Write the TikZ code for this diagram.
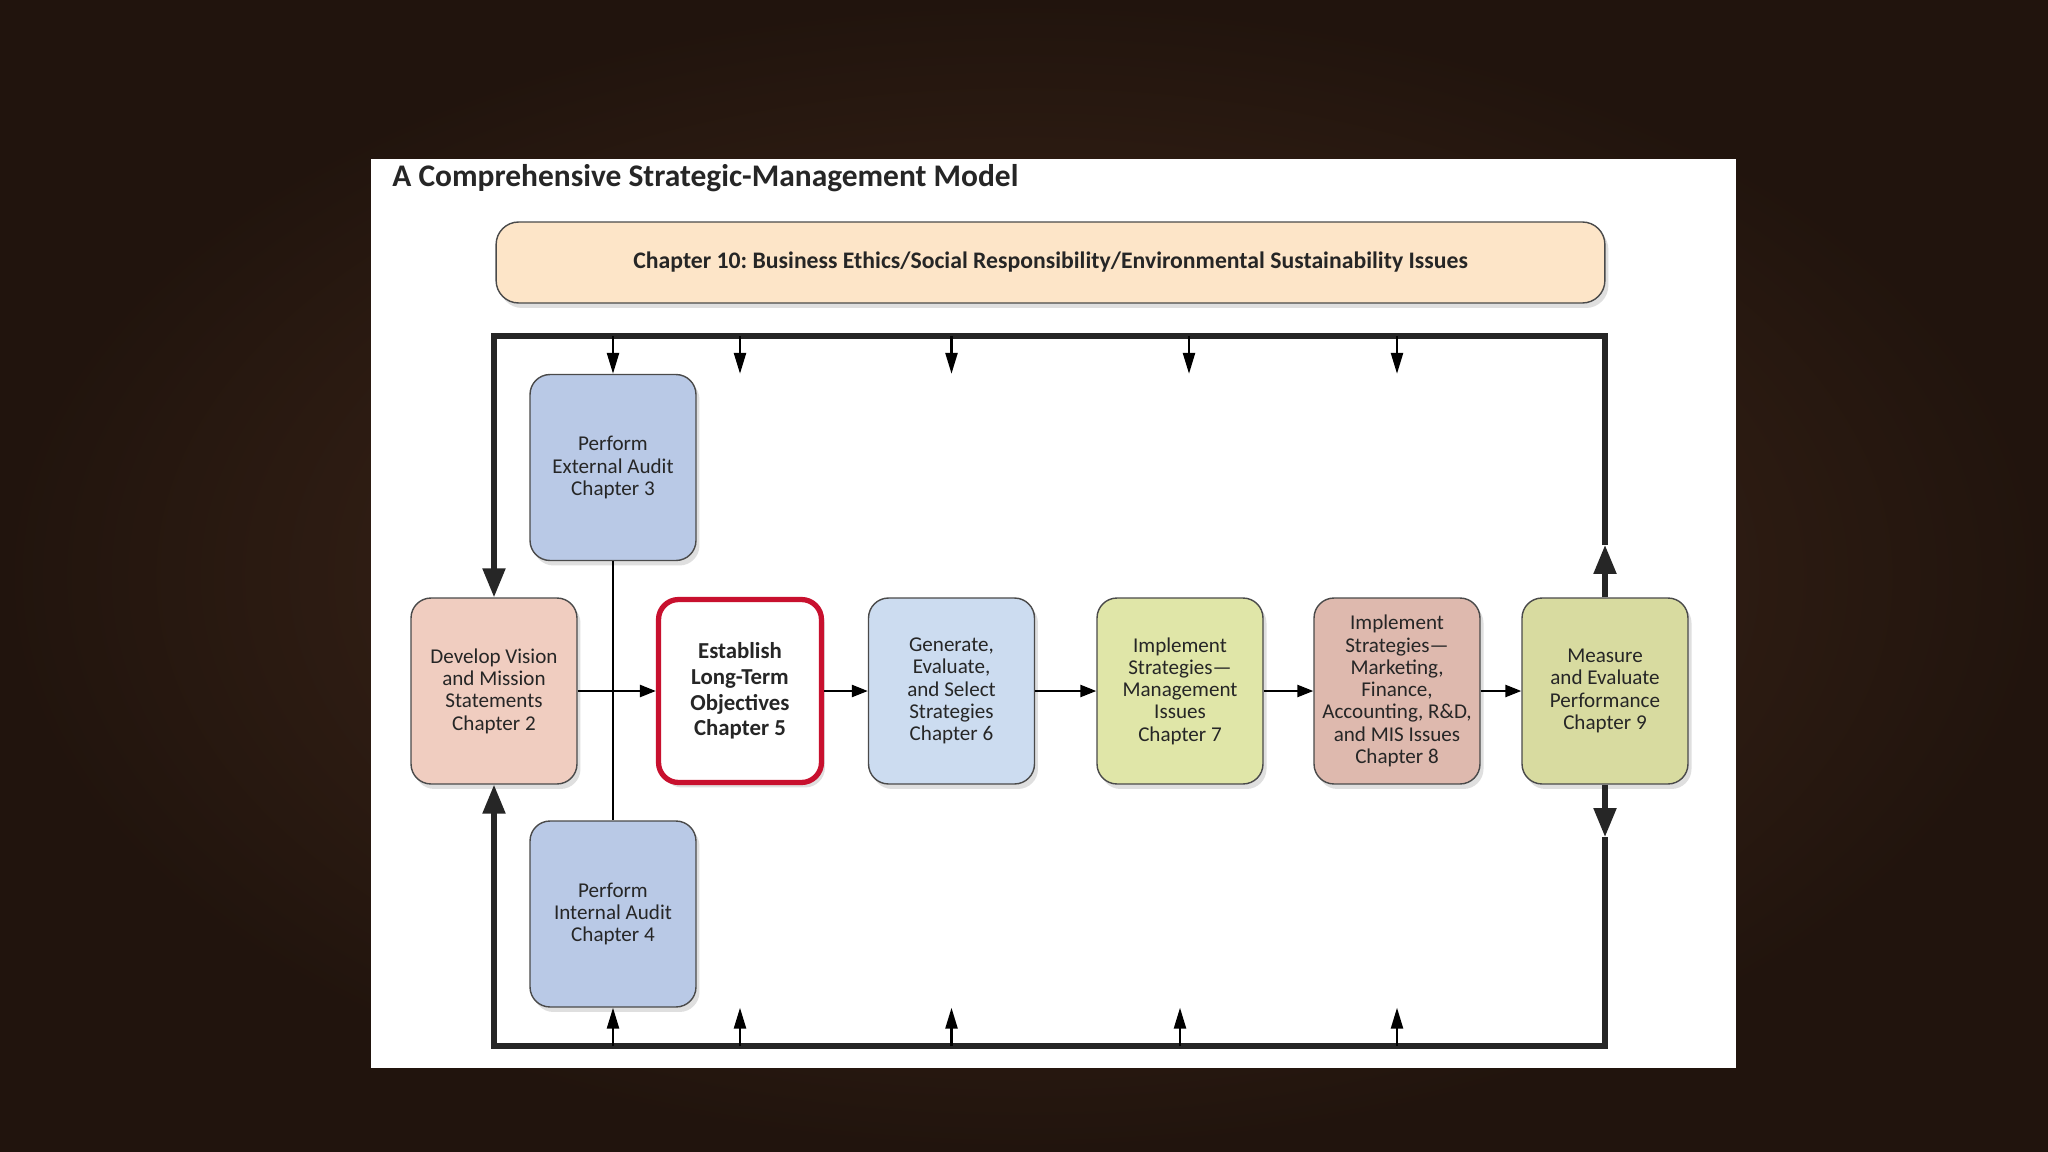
\documentclass[tikz,border=0pt]{standalone}
\usepackage{xcolor}
\usepackage{tikz}
\usepackage{fontspec}
\setmainfont{Carlito}
\usetikzlibrary{arrows.meta,shadows}
\definecolor{smmwood}{HTML}{452B1D}
\definecolor{smmwooddark}{HTML}{21140D}
\definecolor{smmline}{HTML}{4A4A4A}
\definecolor{smmpeach}{HTML}{FDE5C8}
\definecolor{smmsalmon}{HTML}{F0CDC0}
\definecolor{smmblue}{HTML}{B9C9E6}
\definecolor{smmsky}{HTML}{CCDCF0}
\definecolor{smmlime}{HTML}{E0E6A8}
\definecolor{smmrose}{HTML}{DEB9AE}
\definecolor{smmolive}{HTML}{D8DBA0}
\definecolor{smmred}{HTML}{C8102E}
\frenchspacing

\begin{document}
\begin{tikzpicture}[x=0.02cm,y=-0.02cm,
  box/.style={draw=smmline,line width=0.8pt,rounded corners=0.4cm,
    minimum width=3.32cm,minimum height=3.72cm,align=center,text=black!85,
    font=\fontsize{12}{12.7}\selectfont,
    drop shadow={shadow xshift=0.07cm,shadow yshift=-0.1cm,opacity=0.25}},
  flow/.style={line width=1.4pt,-{Triangle[length=0.32cm,width=0.24cm]}},
  tickarrow/.style={line width=1.4pt,-{Triangle[length=0.42cm,width=0.24cm]}},
  thinline/.style={line width=1.4pt},
  loopline/.style={line width=3pt,black!85},
  bigtip/.style={-{Triangle[length=0.58cm,width=0.44cm]}}]
  % backdrop and page
  \shade[inner color=smmwood,outer color=smmwooddark] (0,0) rectangle (2048,1152);
  \fill[white] (371,159) rectangle (1736,1068);
  \node[anchor=base west,inner sep=0pt,text=black!85,
    font=\fontsize{17.9}{19}\selectfont\bfseries] (title) at (392,187)
    {A Comprehensive Strategic-Management Model};
  \node[draw=smmline,fill=smmpeach,line width=0.8pt,rounded corners=0.45cm,
    minimum width=22.18cm,minimum height=1.62cm,text=black!85,
    font=\fontsize{13.5}{15}\selectfont\bfseries,
    drop shadow={shadow xshift=0.07cm,shadow yshift=-0.1cm,opacity=0.25}] (ethics) at (1050.5,262.5)
    {Chapter 10: Business Ethics/Social Responsibility/Environmental Sustainability Issues};

  % steps of the model
  \node[box,fill=smmsalmon] (vision) at (494,691) {Develop Vision\\and Mission\\Statements\\Chapter 2};
  \node[box,fill=smmblue] (external) at (613,467.5) {Perform\\External Audit\\Chapter 3};
  \node[box,fill=smmblue] (internal) at (613,914) {Perform\\Internal Audit\\Chapter 4};
  \node[box,fill=white,draw=smmred,line width=3pt,minimum width=3.26cm,minimum height=3.66cm,
    font=\fontsize{13}{14.6}\selectfont\bfseries] (objectives) at (740,691)
    {Establish\\Long-Term\\Objectives\\Chapter 5};
  \node[box,fill=smmsky] (strategies) at (951.5,691) {Generate,\\Evaluate,\\and Select\\Strategies\\Chapter 6};
  \node[box,fill=smmlime] (mgmt) at (1180,691) {Implement\\Strategies---\\Management\\Issues\\Chapter 7};
  \node[box,fill=smmrose] (functional) at (1397,691)
    {Implement\\Strategies---\\Marketing,\\Finance,\\Accounting, R\&D,\\and MIS Issues\\Chapter 8};
  \node[box,fill=smmolive] (measure) at (1605,691) {Measure\\and Evaluate\\Performance\\Chapter 9};

  % feedback loop
  \coordinate (topleft) at (494,336);
  \coordinate (topright) at (1605,336);
  \coordinate (botleft) at (494,1046);
  \coordinate (botright) at (1605,1046);
  \coordinate (upmark) at (1605,545);
  \coordinate (downmark) at (1605,837);
  \draw[loopline,bigtip] (measure.north) -- (upmark);
  \draw[loopline,bigtip] (upmark) -- (topright) -- (topleft) -- (vision.north);
  \draw[loopline,bigtip] (measure.south) -- (downmark);
  \draw[loopline,bigtip] (downmark) -- (botright) -- (botleft) -- (vision.south);
  \foreach \b/\s in {external/0,objectives/0,strategies/0,mgmt/0.18,functional/0}
    \draw[tickarrow] ([xshift=\s cm]\b |- topleft) -- ([xshift=\s cm]\b |- external.north);
  \foreach \b in {internal,objectives,strategies,mgmt,functional}
    \draw[tickarrow] (\b |- botleft) -- (\b |- internal.south);

  % main flow
  \draw[thinline] (external.south) -- (internal.north);
  \draw[flow] (vision.east) -- (objectives.west);
  \draw[flow] (objectives.east) -- (strategies.west);
  \draw[flow] (strategies.east) -- (mgmt.west);
  \draw[flow] (mgmt.east) -- (functional.west);
  \draw[flow] (functional.east) -- (measure.west);
\end{tikzpicture}
\end{document}
